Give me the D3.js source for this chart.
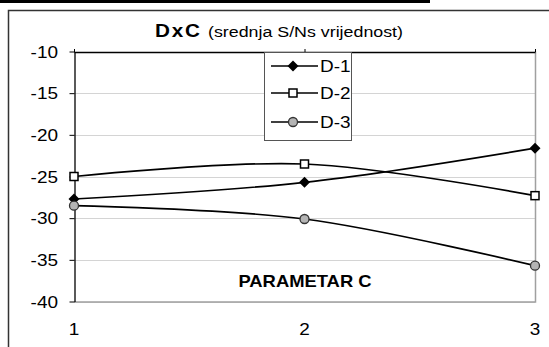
<!DOCTYPE html>
<html>
<head>
<meta charset="utf-8">
<script src="https://cdn.jsdelivr.net/npm/d3@7"></script>
<style>
	body { margin: 0; background: #fff; }
	svg { display: block; font-family: "Liberation Sans", Arial, sans-serif; }
	.grid line { stroke: #d4d4d4; stroke-width: 1; }
</style>
</head>
<body>
<div id="chart"></div>
<script>
	// chart values
	var categories = [1, 2, 3];
	var seriesNames = ["D-1", "D-2", "D-3"];
	var valuesD1 = [-27.7, -25.7, -21.6];
	var valuesD2 = [-25.0, -23.5, -27.3];
	var valuesD3 = [-28.5, -30.1, -35.7];
	var yTicks = [-40, -35, -30, -25, -20, -15, -10];
	var titleMain = "DxC";
	var titleSub = "(srednja S/Ns vrijednost)";
	var axisTitle = "PARAMETAR C";

	var width = 549,
		height = 347,
		sx = 1.15; // text in the picture is stretched sideways

	var plot = {left: 74, right: 535, top: 51.5, bottom: 301.5};

	var svg = d3.select("#chart").append("svg")
		.attr("width", width)
		.attr("height", height);

	// set the ranges
	var x = d3.scaleLinear().domain([1, 3]).range([plot.left, plot.right]);
	var y = d3.scaleLinear().domain([-40, -10]).range([plot.bottom, plot.top]);

	// helper for stretched text
	function addText(tx, ty, str, size, weight, anchor) {
		return svg.append("text")
			.attr("transform", "translate(" + tx + "," + ty + ") scale(" + sx + ",1)")
			.attr("text-anchor", anchor || "start")
			.style("font-size", size + "px")
			.style("font-weight", weight || "normal")
			.attr("fill", "#000")
			.text(str);
	}

	// bar at the very top
	svg.append("rect")
		.attr("x", 0).attr("y", 0)
		.attr("width", 430).attr("height", 3)
		.attr("fill", "#000");

	// chart frame
	svg.append("path")
		.attr("d", "M8.5," + (height + 2) + "V10.5H" + (width + 2))
		.attr("fill", "none")
		.attr("stroke", "#333")
		.attr("stroke-width", 1.5);

	// title
	addText(155, 37, titleMain, 18, "bold").style("letter-spacing", "1.5px");
	addText(208, 37, titleSub, 15.5);

	// add the Y gridlines
	svg.append("g")
		.attr("class", "grid")
		.selectAll("line")
		.data(yTicks)
		.enter().append("line")
		.attr("x1", plot.left).attr("x2", plot.right)
		.attr("y1", function(d) { return Math.round(y(d)) + 0.5; })
		.attr("y2", function(d) { return Math.round(y(d)) + 0.5; });

	// plot area border (right and bottom)
	svg.append("path")
		.attr("d", "M" + plot.left + "," + (plot.bottom + 0.5) + "H" + (plot.right + 0.5) + "V" + plot.top)
		.attr("fill", "none")
		.attr("stroke", "#a0a0a0")
		.attr("stroke-width", 1.5);

	// category axis sits on top
	var xAxis = svg.append("g")
		.attr("transform", "translate(0," + (plot.top + 0.5) + ")")
		.call(d3.axisTop(x).tickValues(categories).tickSize(3).tickFormat("").tickSizeOuter(0));
	xAxis.select(".domain").attr("stroke", "#000").attr("stroke-width", 1.3);
	xAxis.selectAll(".tick line").attr("stroke", "#000");

	// add the Y Axis
	var yAxis = svg.append("g")
		.attr("transform", "translate(" + (plot.left + 0.5) + ",0)")
		.call(d3.axisLeft(y).tickValues(yTicks).tickSize(5).tickSizeOuter(0).tickFormat(""));
	yAxis.select(".domain").attr("stroke", "#000").attr("stroke-width", 1.3);
	yAxis.selectAll(".tick line").attr("stroke", "#000");

	// y tick labels
	yTicks.forEach(function(v) {
		addText(58, y(v) + 6, d3.format("d")(v).replace("\u2212", "-"), 16.5, "normal", "end");
	});

	// x tick labels
	categories.forEach(function(c) {
		addText(x(c), 335, c, 16.5, "normal", "middle");
	});

	// axis title inside plot
	addText(305, 287, axisTitle, 16, "bold", "middle");

	// define the line
	var valueline = d3.line()
		.x(function(d, i) { return x(categories[i]); })
		.y(function(d) { return y(d); })
		.curve(d3.curveCatmullRom.alpha(0.5));

	var allSeries = [valuesD1, valuesD2, valuesD3];

	// marker shapes
	function drawMarker(g, k) {
		if (k === 0) {
			g.append("path").attr("d", "M0,-5.5L5.5,0L0,5.5L-5.5,0Z").attr("fill", "#000");
		} else if (k === 1) {
			g.append("rect").attr("x", -4).attr("y", -4).attr("width", 8).attr("height", 8)
				.attr("fill", "#fff").attr("stroke", "#000").attr("stroke-width", 1.5);
		} else {
			g.append("circle").attr("r", 4.5)
				.attr("fill", "#b4b4b4").attr("stroke", "#333").attr("stroke-width", 1.3);
		}
	}

	allSeries.forEach(function(vals, k) {
		svg.append("path")
			.datum(vals)
			.attr("fill", "none")
			.attr("stroke", "#000")
			.attr("stroke-width", 1.7)
			.attr("d", valueline);
		vals.forEach(function(v, i) {
			var g = svg.append("g").attr("transform", "translate(" + x(categories[i]) + "," + y(v) + ")");
			drawMarker(g, k);
		});
	});

	// legend
	svg.append("rect")
		.attr("x", 264.5).attr("y", 52.5)
		.attr("width", 87).attr("height", 88)
		.attr("fill", "#fff")
		.attr("stroke", "#555")
		.attr("stroke-width", 1);

	var legendRows = [66, 93, 122];
	seriesNames.forEach(function(name, k) {
		var ly = legendRows[k];
		svg.append("line")
			.attr("x1", 271).attr("x2", 318)
			.attr("y1", ly).attr("y2", ly)
			.attr("stroke", "#000").attr("stroke-width", 1.7);
		drawMarker(svg.append("g").attr("transform", "translate(293," + ly + ")"), k);
		addText(320, ly + 6, name, 16.5);
	});
</script>
</body>
</html>
